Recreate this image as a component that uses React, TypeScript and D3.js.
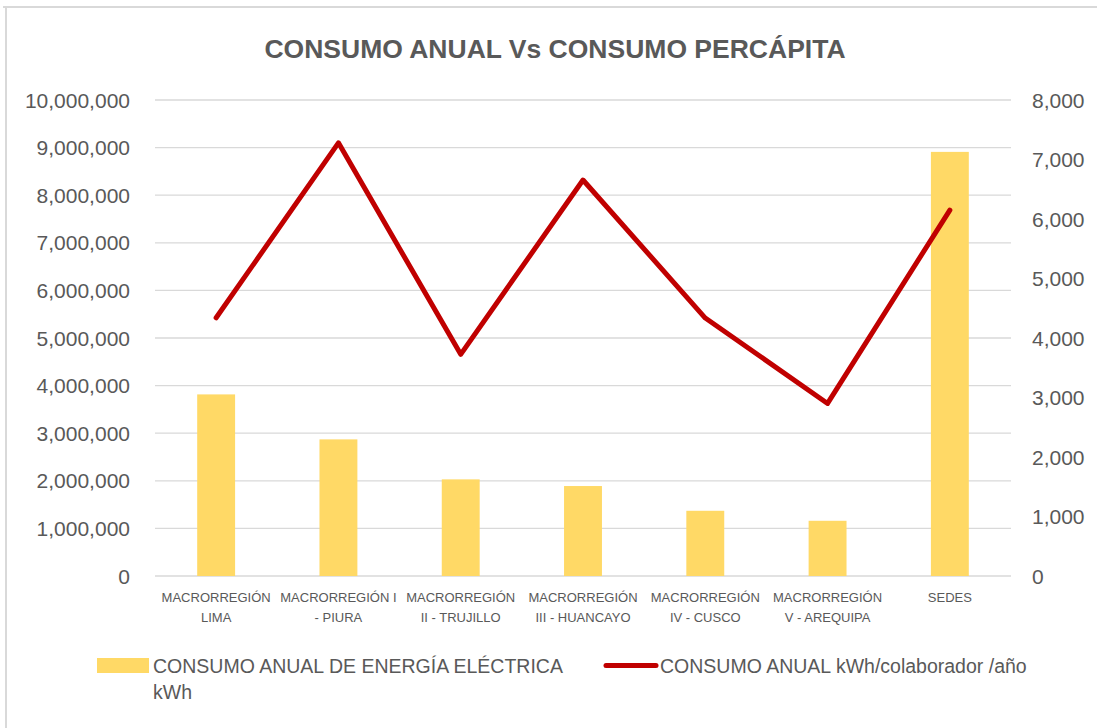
import React from "react";
import * as d3 from "d3";

const categories: string[][] = [
  ["MACRORREGIÓN", "LIMA"],
  ["MACRORREGIÓN I", "- PIURA"],
  ["MACRORREGIÓN", "II - TRUJILLO"],
  ["MACRORREGIÓN", "III - HUANCAYO"],
  ["MACRORREGIÓN", "IV - CUSCO"],
  ["MACRORREGIÓN", "V - AREQUIPA"],
  ["SEDES"],
];

// CONSUMO ANUAL DE ENERGÍA ELÉCTRICA kWh (left axis)
const annualKwh = [3815000, 2870000, 2030000, 1890000, 1370000, 1160000, 8910000];
// CONSUMO ANUAL kWh/colaborador /año (right axis)
const perCapita = [4340, 7280, 3725, 6655, 4335, 2900, 6150];

const leftTicks = [0, 1e6, 2e6, 3e6, 4e6, 5e6, 6e6, 7e6, 8e6, 9e6, 10e6];
const rightTicks = [0, 1000, 2000, 3000, 4000, 5000, 6000, 7000, 8000];

const title = "CONSUMO ANUAL Vs CONSUMO PERCÁPITA";
const barLegend = ["CONSUMO ANUAL DE ENERGÍA ELÉCTRICA", "kWh"];
const lineLegend = "CONSUMO ANUAL kWh/colaborador /año";

const W = 1097;
const H = 728;
const margin = { top: 100, right: 86, bottom: 152, left: 155 };
const textColor = "#595959";
const barColor = "#FFD966";
const lineColor = "#C00000";
const font = "'Liberation Sans', Arial, sans-serif";

const App = () => {
  const innerW = W - margin.left - margin.right;
  const innerH = H - margin.top - margin.bottom;

  const x = d3.scaleBand<number>()
    .domain(categories.map((_, i) => i))
    .range([0, innerW]);
  const yLeft = d3.scaleLinear().domain([0, 10e6]).range([innerH, 0]);
  const yRight = d3.scaleLinear().domain([0, 8000]).range([innerH, 0]);
  const fmt = d3.format(",");

  const barW = x.bandwidth() * 0.31;
  const cx = (i: number) => (x(i) ?? 0) + x.bandwidth() / 2;

  const line = d3.line<number>()
    .x((_, i) => cx(i))
    .y(d => yRight(d));

  return (
    <svg width={W} height={H} style={{ position: "absolute", left: 0, top: 0, background: "#fff" }}>
      {/* chart frame (partially cropped) */}
      <line x1={3} x2={W} y1={7} y2={7} stroke="#D9D9D9" strokeWidth={2} />
      <line x1={6} x2={6} y1={7} y2={H} stroke="#D9D9D9" strokeWidth={2} />

      <text x={555} y={58} textAnchor="middle" fontFamily={font} fontWeight="bold"
        fontSize={26.5} fill={textColor}>{title}</text>

      <g transform={`translate(${margin.left},${margin.top})`}>
        {leftTicks.map(t => (
          <line key={t} x1={0} x2={innerW} y1={yLeft(t)} y2={yLeft(t)}
            stroke="#D9D9D9" strokeWidth={1.3} />
        ))}
        {leftTicks.map(t => (
          <text key={t} x={-25} y={yLeft(t)} dy="0.36em" textAnchor="end"
            fontFamily={font} fontSize={21} fill={textColor}>{fmt(t)}</text>
        ))}
        {rightTicks.map(t => (
          <text key={t} x={innerW + 21} y={yRight(t)} dy="0.36em" textAnchor="start"
            fontFamily={font} fontSize={21} fill={textColor}>{fmt(t)}</text>
        ))}

        {annualKwh.map((v, i) => (
          <rect key={i} x={cx(i) - barW / 2} y={yLeft(v)} width={barW}
            height={innerH - yLeft(v)} fill={barColor} />
        ))}

        <path d={line(perCapita) ?? ""} fill="none" stroke={lineColor} strokeWidth={5}
          strokeLinejoin="round" strokeLinecap="round" />

        {categories.map((lines, i) => (
          <text key={i} x={cx(i)} y={innerH + 26} textAnchor="middle"
            fontFamily={font} fontSize={13} fill={textColor}>
            {lines.map((l, j) => (
              <tspan key={j} x={cx(i)} dy={j === 0 ? 0 : 20}>{l}</tspan>
            ))}
          </text>
        ))}
      </g>

      {/* legend */}
      <rect x={97} y={658} width={52} height={15} fill={barColor} />
      <text x={153} y={673} fontFamily={font} fontSize={19.5} fill={textColor}>
        {barLegend.map((l, j) => (
          <tspan key={j} x={153} dy={j === 0 ? 0 : 26}>{l}</tspan>
        ))}
      </text>
      <line x1={606} x2={656} y1={665.5} y2={665.5} stroke={lineColor} strokeWidth={5}
        strokeLinecap="round" />
      <text x={660} y={673} fontFamily={font} fontSize={19.5} fill={textColor}>{lineLegend}</text>
    </svg>
  );
};

export default App;
